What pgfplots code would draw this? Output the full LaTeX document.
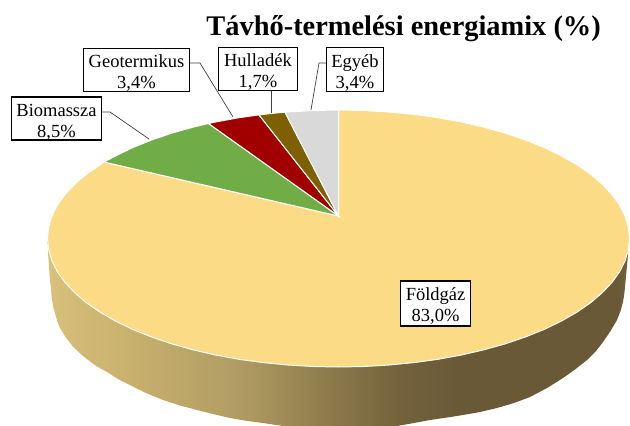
\documentclass[border=0pt]{standalone}
\usepackage{fontspec}
\setmainfont{Liberation Serif}
\usepackage{pgfplots}
\pgfplotsset{compat=1.18}
\definecolor{cYel}{RGB}{252,219,135}
\definecolor{cGrn}{RGB}{112,173,71}
\definecolor{cRed}{RGB}{160,0,0}
\definecolor{cBrn}{RGB}{127,96,0}
\definecolor{cGry}{RGB}{217,217,217}
\definecolor{s1}{RGB}{216,192,122}
\definecolor{s2}{RGB}{200,176,110}
\definecolor{s3}{RGB}{176,156,98}
\definecolor{s4}{RGB}{140,122,75}
\definecolor{s7}{RGB}{115,98,60}
\definecolor{s5}{RGB}{105,89,55}
\definecolor{s6}{RGB}{115,100,62}
\pgfdeclarehorizontalshading{pieside}{100bp}{
  color(0bp)=(s1);
  color(25.2bp)=(s1);
  color(32bp)=(s2);
  color(41.5bp)=(s3);
  color(49.3bp)=(s4);
  color(55.3bp)=(s7);
  color(60.4bp)=(s5);
  color(74bp)=(s5);
  color(75bp)=(s6);
  color(100bp)=(s6)
}
\newcommand\st{\rule{0pt}{19pt}}
\tikzset{lab/.style={draw=black,fill=white,line width=1.5pt,inner sep=0pt,align=center,
  font=\fontsize{18.5}{21}\selectfont}}
\begin{document}
\begin{tikzpicture}
\path[use as bounding box] (0,0) rectangle (630pt,426pt);
\begin{axis}[
  at={(0,0)},anchor=south west,
  scale only axis,width=630pt,height=426pt,
  xmin=0,xmax=630,ymin=0,ymax=426,y dir=reverse,
  hide axis,clip=true]
% side wall
\addplot[draw=none,shading=pieside] coordinates {
(47.5,238.5)(48.3,256.7)(49.8,277)(51.7,296.7)(53,306)(55,313)(57.2,321)(60,328)(65.5,337)(71.7,345)(79.5,353)(88,360)(97,366.5)(107,372)(118,379)(130,385)(146,393)(163,400)(180,405.5)(197,410)(213,414)(230,418)(246,420.8)(263,423)(283,426)(300,428)(380,428)(397,426)(414,423)(430,420)(446,417.7)(463,415)(480,412)(497,408)(514,403)(530,397)(547,388)(563,378)(575,369.5)(587,360)(596,351)(603,342)(610.5,331)(617,320)(620.5,311)(623,302)(624.3,294)(625,287)(626.5,271)(628,255)(629.5,238.5)
} -- cycle;
% Foldgaz
\addplot[fill=cYel,draw=white,line width=1pt] coordinates {
(338.5,216)(338.5,110)(363.9,110.5)(389,112)(413.8,114.4)(438,117.7)(461.5,122)(484,127.2)(505.4,133.2)(525.6,140.1)(544.3,147.6)(561.4,155.9)(576.9,164.8)(590.5,174.2)(602.2,184.2)(612,194.6)(619.6,205.2)(625.1,216.2)(628.4,227.3)
(629.5,238.5)(628.4,249.7)(625.1,260.8)(619.6,271.8)(612,282.4)(602.2,292.8)(590.5,302.8)(576.9,312.2)(561.4,321.1)(544.3,329.4)(525.6,336.9)(505.4,343.8)(484,349.8)(461.5,355)(438,359.3)(413.8,362.6)(389,365)(363.9,366.5)(338.5,367)(313.1,366.5)(288,365)(263.2,362.6)(239,359.3)(215.5,355)(193,349.8)(171.6,343.8)(151.4,336.9)(132.7,329.4)(115.6,321.1)(100.1,312.2)(86.5,302.8)(74.8,292.8)(65,282.4)(57.4,271.8)(51.9,260.8)(48.6,249.7)
(47.5,238.5)(48.6,227.3)(51.9,216.2)(57.4,205.2)(65,194.6)(74.8,184.2)(86.5,174.2)(100.1,164.8)(104,162)
} -- cycle;
% Biomassza
\addplot[fill=cGrn,draw=white,line width=1pt] coordinates {
(338.5,216)(104,162)(115.6,155.9)(132.7,147.6)(151.4,140.1)(171.6,133.2)(193,127.2)(208.5,123.5)
} -- cycle;
% Geotermikus
\addplot[fill=cRed,draw=white,line width=1pt] coordinates {
(338.5,216)(208.5,123.5)(215.5,122)(239,117.7)(259,114.9)
} -- cycle;
% Hulladek
\addplot[fill=cBrn,draw=white,line width=1pt] coordinates {
(338.5,216)(259,114.9)(272,113.4)(285,112.2)
} -- cycle;
% Egyeb
\addplot[fill=cGry,draw=white,line width=1pt] coordinates {
(338.5,216)(285,112.2)(313.1,110.5)(338.5,110)
} -- cycle;
% leaders
\addplot[draw=black!75,line width=.7pt] coordinates {(102,112)(110,112)(149,139)};
\addplot[draw=black!75,line width=.7pt] coordinates {(190,63)(200,63)(233,117)};
\addplot[draw=black!75,line width=.7pt] coordinates {(271,91)(271,113)};
\addplot[draw=black!75,line width=.7pt] coordinates {(326,63)(319,63)(311,110)};
% labels
\node[lab,minimum width=90pt,minimum height=42pt] at (axis cs:56.5,118.5) {\st Biomassza\\8,5\%};
\node[lab,minimum width=106pt,minimum height=43pt] at (axis cs:136.5,70) {\st Geotermikus\\3,4\%};
\node[lab,minimum width=79pt,minimum height=43pt] at (axis cs:258,69) {\st Hulladék\\1,7\%};
\node[lab,minimum width=57pt,minimum height=44pt] at (axis cs:355,69.5) {\st Egyéb\\3,4\%};
\node[lab,minimum width=70pt,minimum height=45pt] at (axis cs:435.6,303.3) {\st Földgáz\\83,0\%};
\node[anchor=base east,inner sep=0pt,font=\fontsize{28.4}{32}\selectfont\bfseries] at (axis cs:601,35) {Távhő-termelési energiamix (\%)};
\end{axis}
\end{tikzpicture}
\end{document}
